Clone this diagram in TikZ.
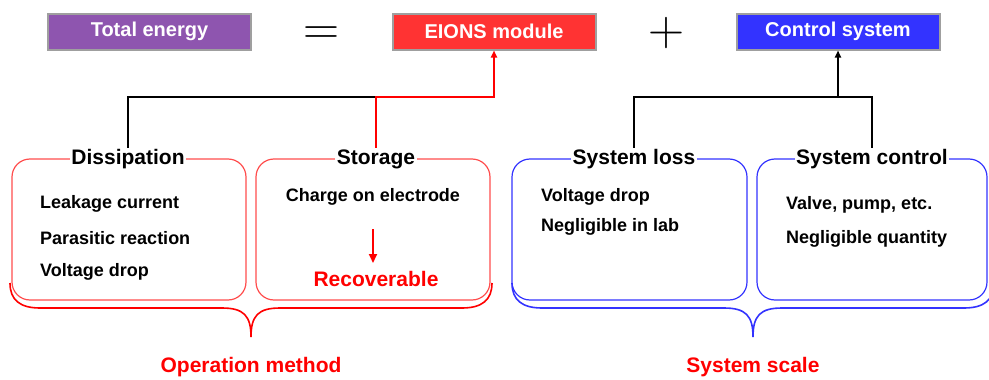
\documentclass[tikz,border=0pt]{standalone}
\usepackage{fontspec}
\setmainfont{Liberation Sans}
\newfontfamily\signfont{Latin Modern Roman}
\usepackage{tikz}
\usetikzlibrary{positioning,arrows.meta}
\definecolor{purplebox}{HTML}{8E55AF}
\definecolor{redbox}{HTML}{FF3333}
\definecolor{bluebox}{HTML}{3333FF}
\definecolor{redline}{HTML}{FF4D4D}
\tikzset{
  topbox/.style={draw=gray!75,line width=2pt,minimum width=203,minimum height=36,inner sep=0pt,text=white,font=\fontsize{20}{22}\selectfont\bfseries},
  group/.style={draw,rounded corners=18pt,line width=1.2pt,minimum height=141,inner sep=0pt},
  grptitle/.style={fill=white,inner sep=1.5pt,font=\fontsize{21}{23}\selectfont\bfseries},
  item/.style={anchor=west,inner sep=0pt,font=\fontsize{18}{20}\selectfont\bfseries},
  sign/.style={inner sep=0pt,font=\fontsize{50}{50}\signfont},
  link/.style={line width=2.6pt},
  tip/.style={-{Triangle[length=7pt,width=6pt]}},
  brace/.style={line width=1.6pt}
}
\begin{document}
\begin{tikzpicture}[x=1pt,y=-1pt]
\useasboundingbox (0,0) rectangle (989,380);
% top row
\node[topbox,fill=purplebox] (total) at (149.5,31.5) {Total energy};
\node[sign] (eq) at (321.5,35.5) {=};
\node[topbox,fill=redbox] (eions) at (494,31.5) {EIONS module};
\node[sign] (plus) at (666,33) {+};
\node[topbox,fill=bluebox] (ctrl) at (838,31.5) {Control system};
% groups
\node[group,draw=redline,minimum width=234] (diss) at (129,229.5) {};
\node[group,draw=redline,minimum width=234] (stor) at (373,229.5) {};
\node[group,draw=bluebox,minimum width=235] (loss) at (629.5,229.5) {};
\node[group,draw=bluebox,minimum width=230] (sctl) at (872,229.5) {};
\node[grptitle] (tdiss) at (128,159) {Dissipation};
\node[grptitle] (tstor) at (376,159) {Storage};
\node[grptitle] (tloss) at (634,159) {System loss};
\node[grptitle] (tsctl) at (872,159) {System control};
% items
\node[item] (leak) at (40,204) {Leakage current};
\node[item] (para) at (40,238) {Parasitic reaction};
\node[item] (vdrop) at (40,272) {Voltage drop};
\node[item,anchor=center] (charge) at (373,197) {Charge on electrode};
\node[item,anchor=center,text=red,font=\fontsize{21}{23}\selectfont\bfseries] (recov) at (376,279) {Recoverable};
\coordinate (c1) at (373,229);
\coordinate (c2) at (373,263);
\draw[link,red,line width=2pt,-{Triangle[length=9pt,width=8pt]}] (c1) -- (c2);
\node[item] (svdrop) at (541,197) {Voltage drop};
\node[item] (neglab) at (541,227) {Negligible in lab};
\node[item] (valve) at (786,205) {Valve, pump, etc.};
\node[item] (negq) at (786,239) {Negligible quantity};
% connectors
\coordinate (jl) at (376,97);
\coordinate (jr) at (ctrl.south |- jl);
\draw[link] (tdiss.north) |- (jl);
\draw[link,red,tip] (tstor.north) -- (jl) -| (eions.south);
\draw[link] (tloss.north) |- (tsctl.north |- jr) -- (tsctl.north);
\draw[link,tip] (jr) -- (ctrl.south);
% braces
\draw[brace,red] (10,283) .. controls (10,300) and (20,308) .. (40,308) -- (222,308)
  .. controls (244,308) and (251,316) .. (251,337)
  .. controls (251,316) and (258,308) .. (280,308) -- (462,308)
  .. controls (482,308) and (492,300) .. (492,283);
\draw[brace,bluebox] (512,283) .. controls (512,300) and (522,308) .. (542,308) -- (724,308)
  .. controls (746,308) and (753,316) .. (753,337)
  .. controls (753,316) and (760,308) .. (782,308) -- (964,308)
  .. controls (984,308) and (994,300) .. (994,283);
\node[grptitle,text=red] (opm) at (251,367) {Operation method};
\node[grptitle,text=red] (ssc) at (753,367) {System scale};
\end{tikzpicture}
\end{document}
